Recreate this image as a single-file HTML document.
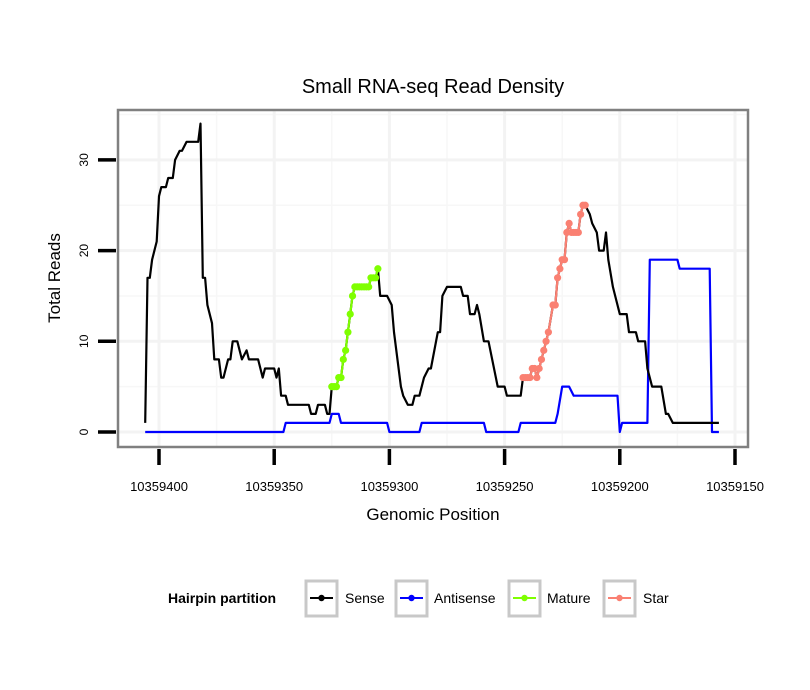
<!DOCTYPE html>
<html><head><meta charset="utf-8"><style>
body{margin:0;background:#fff;}
svg{display:block;font-family:"Liberation Sans",sans-serif;}
</style></head><body>
<svg id="chart" width="810" height="690" viewBox="0 0 810 690" xmlns="http://www.w3.org/2000/svg">
<rect width="810" height="690" fill="#fff"/>
<text x="433" y="93" text-anchor="middle" font-size="20">Small RNA-seq Read Density</text>
<g id="grid"></g>
<g id="series"></g>
<rect x="118" y="110" width="630" height="337" fill="none" stroke="#808080" stroke-width="2.5"/>
<g id="axes"></g>
<text x="433" y="520" text-anchor="middle" font-size="17">Genomic Position</text>
<text transform="translate(60,278) rotate(-90)" text-anchor="middle" font-size="17">Total Reads</text>
<g>
<text x="168" y="603" font-size="14" font-weight="bold">Hairpin partition</text>
<g>
<rect x="306" y="581" width="31" height="35" fill="#fff" stroke="#c8c8c8" stroke-width="3"/>
<line x1="310" y1="598" x2="333" y2="598" stroke="#000" stroke-width="2"/><circle cx="321.5" cy="598" r="3.2" fill="#000"/>
<text x="345" y="603" font-size="14">Sense</text></g>
<g>
<rect x="396" y="581" width="31" height="35" fill="#fff" stroke="#c8c8c8" stroke-width="3"/>
<line x1="400" y1="598" x2="423" y2="598" stroke="#0000ff" stroke-width="2"/><circle cx="411.5" cy="598" r="3.2" fill="#0000ff"/>
<text x="434" y="603" font-size="14">Antisense</text></g>
<g>
<rect x="509" y="581" width="31" height="35" fill="#fff" stroke="#c8c8c8" stroke-width="3"/>
<line x1="513" y1="598" x2="536" y2="598" stroke="#7fff00" stroke-width="2"/><circle cx="524.5" cy="598" r="3.2" fill="#7fff00"/>
<text x="547" y="603" font-size="14">Mature</text></g>
<g>
<rect x="604" y="581" width="31" height="35" fill="#fff" stroke="#c8c8c8" stroke-width="3"/>
<line x1="608" y1="598" x2="631" y2="598" stroke="#fa8072" stroke-width="2"/><circle cx="619.5" cy="598" r="3.2" fill="#fa8072"/>
<text x="643" y="603" font-size="14">Star</text></g>
</g>
</svg>
<script>
const xTicks = [10359400, 10359350, 10359300, 10359250, 10359200, 10359150];
const yTicks = [0, 10, 20, 30];
const sensePos = [
406,405,404,403,401,400,399,397,396,394,
393,391,390,388,383,382,381,380,379,377,
376,374,373,372,370,369,368,366,365,364,
362,361,357,355,354,350,349,348,347,345,
344,335,334,332,331,328,327,326,325,324,
323,322,321,320,319,318,317,316,315,314,
313,312,311,310,309,308,307,306,305,304,
301,299,298,295,294,292,290,289,287,285,
283,282,279,278,277,275,269,268,266,265,
263,262,261,259,257,253,251,250,249,243,
242,241,240,239,238,237,236,235,234,233,
232,231,229,228,227,226,225,224,223,222,
221,220,219,218,217,216,215,213,212,210,
209,207,206,205,203,200,197,196,193,192,
189,188,186,182,180,179,177,157];
const senseReads = [
1,17,17,19,21,26,27,27,28,28,
30,31,31,32,32,34,17,17,14,12,
8,8,6,6,8,8,10,10,9,8,
9,8,8,6,7,7,6,7,4,4,
3,3,2,2,3,3,2,2,5,5,
5,6,6,8,9,11,13,15,16,16,
16,16,16,16,16,17,17,17,18,15,
15,14,11,5,4,3,3,4,4,6,
7,7,11,11,15,16,16,15,15,13,
13,14,13,10,10,5,5,5,4,4,
6,6,6,6,7,7,6,7,8,9,
10,11,14,14,17,18,19,19,22,23,
22,22,22,22,24,25,25,24,23,22,
20,20,22,19,16,13,13,11,11,10,
10,7,5,5,2,2,1,1];
const antiPos = [406,346,345,326,325,322,321,301,300,287,286,259,258,244,243,228,227,225,222,220,201,200,199,188,187,175,174,161,160,157];
const antiReads = [0,0,1,1,2,2,1,1,0,0,1,1,0,0,1,1,2,5,5,4,4,0,1,1,19,19,18,18,0,0];
const maturePos = [325,324,323,322,321,320,319,318,317,316,315,314,313,312,311,310,309,308,307,306,305];
const matureReads = [5,5,5,6,6,8,9,11,13,15,16,16,16,16,16,16,16,17,17,17,18];
const starPos = [242,241,240,239,238,237,236,235,234,233,232,231,229,228,227,226,225,224,223,222,221,220,219,218,217,216,215];
const starReads = [6,6,6,6,7,7,6,7,8,9,10,11,14,14,17,18,19,19,22,23,22,22,22,22,24,25,25];

const NS='http://www.w3.org/2000/svg';
const BASE=10359000;
function X(p){ if(p<100000) p+=BASE; return 159 + (10359400 - p)*2.304; }
function Y(r){ return 432 - r*9.07; }
function mk(tag, attrs, parent){ const e=document.createElementNS(NS,tag); for(const k in attrs) e.setAttribute(k,attrs[k]); parent.appendChild(e); return e; }

const grid=document.getElementById('grid');
const axes=document.getElementById('axes');
const series=document.getElementById('series');
for(let i=0;i<xTicks.length-1;i++){
  const m=(xTicks[i]+xTicks[i+1])/2;
  const l=mk('line',{x1:X(m),x2:X(m),y1:111,y2:446,stroke:'#f7f7f7','stroke-width':1.5},grid);
  
  
}
for(let i=0;i<yTicks.length;i++){
  const m=yTicks[i]+5;
  const l=mk('line',{x1:119,x2:747,y1:Y(m),y2:Y(m),stroke:'#f7f7f7','stroke-width':1.5},grid);
  
  
}
xTicks.forEach(t=>{
  const g=mk('line',{x1:X(t),x2:X(t),y1:111,y2:446,stroke:'#f3f3f3','stroke-width':3},grid);
  
  
  const tk=mk('line',{x1:X(t),x2:X(t),y1:449,y2:465,stroke:'#000','stroke-width':3.5},axes);
  
  
  const tx=mk('text',{x:X(t),y:491,'text-anchor':'middle','font-size':13},axes);
  tx.textContent=t;
  
  
});
yTicks.forEach(t=>{
  const g=mk('line',{x1:119,x2:747,y1:Y(t),y2:Y(t),stroke:'#f3f3f3','stroke-width':3},grid);
  
  
  const tk=mk('line',{x1:98,x2:116,y1:Y(t),y2:Y(t),stroke:'#000','stroke-width':3.5},axes);
  
  
  const tx=mk('text',{transform:`translate(88,${Y(t)}) rotate(-90)`,'text-anchor':'middle','font-size':12},axes);
  tx.textContent=t;
  
  
});
function line(pos,reads,color,name){
  const d=pos.map((p,i)=>(i?'L':'M')+X(p).toFixed(1)+','+Y(reads[i]).toFixed(1)).join(' ');
  const pth=mk('path',{d:d,fill:'none',stroke:color,'stroke-width':2.2,'stroke-linejoin':'round'},series);
  
  
}
function dots(pos,reads,color,name){
  pos.forEach((p,i)=>{
    const c=mk('circle',{cx:X(p),cy:Y(reads[i]),r:3.6,fill:color},series);
    
    
  });
}
line(antiPos,antiReads,'#0000ff','antisense-line');
line(sensePos,senseReads,'#000','sense-line');
line(maturePos,matureReads,'#7fff00','mature-line');
dots(maturePos,matureReads,'#7fff00','mature-point');
line(starPos,starReads,'#fa8072','star-line');
dots(starPos,starReads,'#fa8072','star-point');
</script>
</body></html>
